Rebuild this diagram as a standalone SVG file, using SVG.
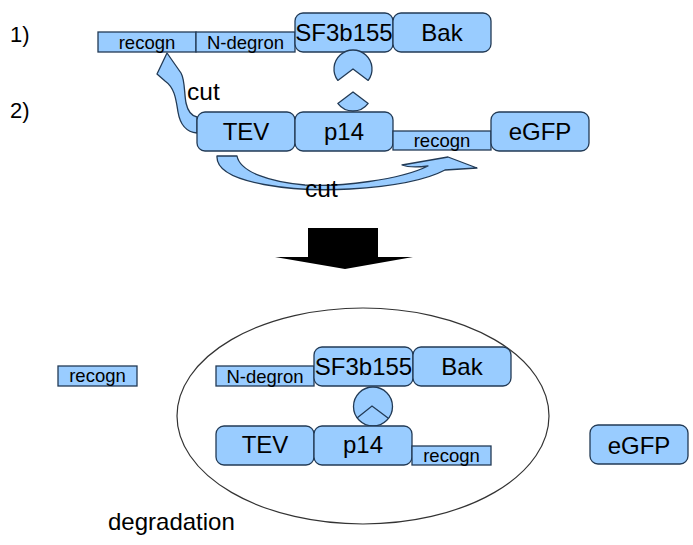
<svg xmlns="http://www.w3.org/2000/svg" width="693" height="545" viewBox="0 0 693 545">
<style>
.box{fill:#99ccff;stroke:#223a55;stroke-width:1.3}
.shape{fill:#99ccff;stroke:#223a55;stroke-width:1.3;stroke-linejoin:round}
.t{font-family:"Liberation Sans",Arial,sans-serif;fill:#000}
.big{font-size:24px;text-anchor:middle}
.sm{font-size:18.5px;text-anchor:middle}
.lab{font-size:22px}
</style>
<rect width="693" height="545" fill="#fff"/>
<text class="t lab" x="10" y="42">1)</text>
<text class="t lab" x="10" y="118">2)</text>

<g id="connectors">
<path class="shape" d="M167,53 L181,73 C185,80 184,92 186,103 C188,112 192,116 197,117 L197,133 C186,132 180,124 178,112 C176,100 175,88 165,81 L157,74 Z"/>
<path class="shape" d="M217,156 C215,185 300,192 350,189 C400,186 430,178 445,170 L477,168 L448,157 L402,165 C410,168 420,167 428,166 C400,180 340,187 305,185 C270,182 240,172 237,156 Z"/>
</g>

<text class="t" x="187" y="100" font-size="24.5">cut</text>
<text class="t" x="305" y="197" font-size="24.5">cut</text>

<g id="top-recogn"><rect class="box" x="98" y="32" width="98" height="20"/><text class="t sm" x="147" y="49">recogn</text></g>
<g id="top-ndegron"><rect class="box" x="196" y="32" width="99" height="20"/><text class="t sm" x="245.5" y="49">N-degron</text></g>
<g id="top-sf3b155"><rect class="box" x="295" y="13" width="98" height="39" rx="8"/><text class="t big" x="344" y="41">SF3b155</text></g>
<g id="top-bak"><rect class="box" x="393" y="13" width="98" height="39" rx="8"/><text class="t big" x="442" y="41">Bak</text></g>
<g id="top-pocket"><path class="shape" d="M353,69 L368.2,80.4 A19,19 0 1 0 337.8,80.4 Z"/></g>
<g id="top-wedge"><path class="shape" d="M353,92 L368.2,103.4 A19,19 0 0 1 337.8,103.4 Z"/></g>

<g id="top-tev"><rect class="box" x="197" y="112" width="98" height="39" rx="8"/><text class="t big" x="246" y="140">TEV</text></g>
<g id="top-p14"><rect class="box" x="295" y="112" width="98" height="39" rx="8"/><text class="t big" x="344" y="140">p14</text></g>
<g id="top-recogn2"><rect class="box" x="393" y="131" width="98" height="19"/><text class="t sm" x="442" y="147">recogn</text></g>
<g id="top-egfp"><rect class="box" x="491" y="112" width="98" height="39" rx="8"/><text class="t big" x="540" y="140">eGFP</text></g>

<g id="big-arrow"><path d="M308,228 H378 V257 H413 L345,269 L275,257 H308 Z" fill="#000"/></g>

<g id="proteasome"><ellipse cx="363" cy="416" rx="186" ry="108" fill="none" stroke="#333" stroke-width="1.2"/></g>

<g id="free-recogn"><rect class="box" x="58" y="366" width="79" height="20"/><text class="t sm" x="97.5" y="382">recogn</text></g>
<g id="free-egfp"><rect class="box" x="590" y="425" width="98" height="39" rx="8"/><text class="t big" x="639" y="454">eGFP</text></g>

<g id="bot-ndegron"><rect class="box" x="216" y="366" width="98" height="20"/><text class="t sm" x="265" y="383">N-degron</text></g>
<g id="bot-sf3b155"><rect class="box" x="314" y="347" width="99" height="39" rx="8"/><text class="t big" x="363.5" y="375">SF3b155</text></g>
<g id="bot-bak"><rect class="box" x="413" y="347" width="98" height="39" rx="8"/><text class="t big" x="462" y="375">Bak</text></g>
<g id="bot-complex"><circle class="shape" cx="373" cy="406.5" r="19.5"/><polyline points="357,418 372,406 388,418" fill="none" stroke="#223a55" stroke-width="1.3"/></g>
<g id="bot-tev"><rect class="box" x="216" y="426" width="98" height="39" rx="8"/><text class="t big" x="265" y="453">TEV</text></g>
<g id="bot-p14"><rect class="box" x="314" y="426" width="98" height="39" rx="8"/><text class="t big" x="363" y="453">p14</text></g>
<g id="bot-recogn"><rect class="box" x="412" y="446" width="79" height="19"/><text class="t sm" x="451.5" y="462">recogn</text></g>

<text class="t" x="108" y="530" font-size="24">degradation</text>
</svg>
